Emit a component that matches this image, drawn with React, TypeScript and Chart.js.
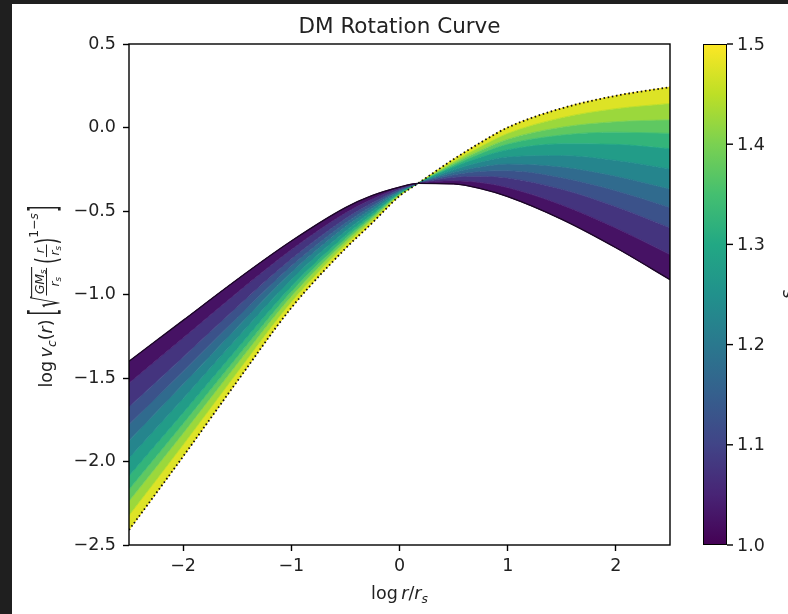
import React, { useEffect, useRef } from 'react';
import { Chart, registerables } from 'chart.js';

Chart.register(...registerables);

// ---------- data ----------
const LOG_R = [-2.5, -2.0, -1.5, -1.0, -0.5, -0.25, 0.0, 0.17, 0.5, 0.75, 1.0, 1.5, 2.0, 2.5];

const S_LEVELS = [1.0, 1.05, 1.1, 1.15, 1.2, 1.25, 1.3, 1.35, 1.4, 1.45, 1.5];

const V_S100 = [-1.40, -1.155, -0.91, -0.68, -0.48, -0.407, -0.357, -0.335, -0.338, -0.366, -0.414, -0.55, -0.72, -0.911];
const V_S105 = [-1.531, -1.261, -0.989, -0.732, -0.512, -0.428, -0.364, -0.335, -0.319, -0.330, -0.360, -0.464, -0.602, -0.761];
const V_S110 = [-1.673, -1.375, -1.075, -0.788, -0.546, -0.451, -0.371, -0.335, -0.298, -0.292, -0.302, -0.370, -0.474, -0.600];
const V_S115 = [-1.779, -1.461, -1.139, -0.830, -0.572, -0.468, -0.377, -0.335, -0.283, -0.263, -0.259, -0.301, -0.379, -0.479];
const V_S120 = [-1.875, -1.538, -1.197, -0.868, -0.595, -0.484, -0.382, -0.335, -0.268, -0.236, -0.219, -0.237, -0.292, -0.369];
const V_S125 = [-1.981, -1.624, -1.261, -0.910, -0.621, -0.501, -0.388, -0.335, -0.253, -0.207, -0.176, -0.168, -0.197, -0.248];
const V_S130 = [-2.087, -1.709, -1.325, -0.952, -0.647, -0.518, -0.393, -0.335, -0.237, -0.178, -0.133, -0.098, -0.101, -0.127];
const V_S135 = [-2.168, -1.774, -1.374, -0.984, -0.666, -0.531, -0.397, -0.335, -0.226, -0.156, -0.099, -0.045, -0.028, -0.035];
const V_S140 = [-2.238, -1.832, -1.416, -1.012, -0.683, -0.542, -0.401, -0.335, -0.215, -0.137, -0.070, 0.002, 0.035, 0.046];
const V_S145 = [-2.324, -1.901, -1.468, -1.046, -0.704, -0.556, -0.406, -0.335, -0.203, -0.114, -0.035, 0.059, 0.113, 0.144];
const V_S150 = [-2.41, -1.97, -1.52, -1.08, -0.725, -0.57, -0.41, -0.335, -0.19, -0.09, 0.0, 0.115, 0.19, 0.242];

const SERIES = [V_S100, V_S105, V_S110, V_S115, V_S120, V_S125, V_S130, V_S135, V_S140, V_S145, V_S150];

const X_TICKS = [-2, -1, 0, 1, 2];
const Y_TICKS = [-2.5, -2.0, -1.5, -1.0, -0.5, 0.0, 0.5];
const CBAR_TICKS = [1.0, 1.1, 1.2, 1.3, 1.4, 1.5];
const S_MIN = 1.0;
const S_MAX = 1.5;
const TITLE = 'DM Rotation Curve';

// ---------- style ----------
const W = 776;
const H = 610;
const FAM = '"DejaVu Sans", "Liberation Sans", sans-serif';
const FS = 17.5;
const TXT = '#222222';
const VIRIDIS = ['#440154', '#482475', '#414487', '#355f8d', '#2a788e', '#21918c', '#22a884', '#44bf70', '#7ad151', '#bddf26', '#fde725'];

function hex(c: string) {
  return [parseInt(c.slice(1, 3), 16), parseInt(c.slice(3, 5), 16), parseInt(c.slice(5, 7), 16)];
}
function viridis(t: number) {
  const tt = Math.max(0, Math.min(1, t)) * (VIRIDIS.length - 1);
  const i = Math.min(VIRIDIS.length - 2, Math.floor(tt));
  const f = tt - i;
  const a = hex(VIRIDIS[i]);
  const b = hex(VIRIDIS[i + 1]);
  const m = a.map((v, k) => Math.round(v + (b[k] - v) * f));
  return `rgb(${m[0]},${m[1]},${m[2]})`;
}
const sNorm = (s: number) => (s - S_MIN) / (S_MAX - S_MIN);
const minus = (s: string) => s.replace('-', '\u2212');

type Op = { w: number; draw: (ctx: CanvasRenderingContext2D, x: number) => void };

function font(size: number, italic: boolean) {
  return `${italic ? 'italic ' : ''}${size}px ${FAM}`;
}
function txt(ctx: CanvasRenderingContext2D, t: string, size: number, italic: boolean, dy: number): Op {
  ctx.font = font(size, italic);
  const w = ctx.measureText(t).width;
  return { w, draw: (c, x) => { c.font = font(size, italic); c.fillText(t, x, dy); } };
}
function gap(w: number): Op {
  return { w, draw: () => {} };
}
function stretched(ctx: CanvasRenderingContext2D, t: string, size: number, top: number, bottom: number): Op {
  ctx.font = font(size, false);
  const m = ctx.measureText(t);
  const asc = m.actualBoundingBoxAscent;
  const desc = m.actualBoundingBoxDescent;
  const k = (bottom - top) / (asc + desc);
  const base = bottom - desc * k;
  return {
    w: m.width,
    draw: (c, x) => {
      c.save();
      c.font = font(size, false);
      c.translate(x, base);
      c.scale(1, k);
      c.fillText(t, 0, 0);
      c.restore();
    },
  };
}
function group(ops: Op[]): Op {
  const w = ops.reduce((a, o) => a + o.w, 0);
  return {
    w,
    draw: (c, x) => {
      let cx = x;
      ops.forEach((o) => { o.draw(c, cx); cx += o.w; });
    },
  };
}
function frac(num: Op, den: Op, barY: number): Op {
  const w = Math.max(num.w, den.w) + 3;
  return {
    w,
    draw: (c, x) => {
      num.draw(c, x + (w - num.w) / 2);
      den.draw(c, x + (w - den.w) / 2);
      c.save();
      c.strokeStyle = TXT;
      c.lineWidth = 1;
      c.beginPath();
      c.moveTo(x, barY);
      c.lineTo(x + w, barY);
      c.stroke();
      c.restore();
    },
  };
}
function sqrtOp(ctx: CanvasRenderingContext2D, body: Op, top: number, bottom: number): Op {
  const rad = stretched(ctx, '\u221A', FS, top, bottom);
  const w = rad.w + body.w + 2;
  return {
    w,
    draw: (c, x) => {
      rad.draw(c, x);
      body.draw(c, x + rad.w + 1);
      c.save();
      c.strokeStyle = TXT;
      c.lineWidth = 1.1;
      c.beginPath();
      c.moveTo(x + rad.w - 1, top + 0.6);
      c.lineTo(x + w, top + 0.6);
      c.stroke();
      c.restore();
    },
  };
}

const decoPlugin = {
  id: 'deco',
  beforeDraw(chart: any) {
    const ctx = chart.ctx as CanvasRenderingContext2D;
    ctx.save();
    ctx.fillStyle = '#ffffff';
    ctx.fillRect(0, 0, chart.width, chart.height);
    ctx.restore();
  },
  afterDraw(chart: any) {
    const ctx = chart.ctx as CanvasRenderingContext2D;
    const a = chart.chartArea;
    ctx.save();
    // axes frame
    ctx.strokeStyle = '#000';
    ctx.lineWidth = 1.4;
    ctx.strokeRect(a.left, a.top, a.right - a.left, a.bottom - a.top);

    ctx.fillStyle = TXT;
    // title
    ctx.font = font(21.5, false);
    ctx.textAlign = 'center';
    ctx.textBaseline = 'alphabetic';
    ctx.fillText(TITLE, (a.left + a.right) / 2, 28.5);

    // x label: log r/r_s
    ctx.textAlign = 'left';
    const xl = group([
      txt(ctx, 'log', FS, false, 0),
      gap(3.5),
      txt(ctx, 'r', FS, true, 0),
      txt(ctx, '/', FS, false, 0),
      txt(ctx, 'r', FS, true, 0),
      txt(ctx, 's', FS * 0.7, true, 4),
    ]);
    ctx.save();
    ctx.translate((a.left + a.right) / 2, 595);
    xl.draw(ctx, -xl.w / 2);
    ctx.restore();

    // y label
    const fs = FS * 0.7;
    const ss = FS * 0.5;
    const barY = -5.5;
    const numY = -8.5;
    const denY = 6.5;
    const gm = group([txt(ctx, 'GM', fs, true, numY), txt(ctx, 's', ss, true, numY + 2.5)]);
    const rs = group([txt(ctx, 'r', fs, true, denY), txt(ctx, 's', ss, true, denY + 2.5)]);
    const rr = txt(ctx, 'r', fs, true, numY);
    const rs2 = group([txt(ctx, 'r', fs, true, denY), txt(ctx, 's', ss, true, denY + 2.5)]);
    const yl = group([
      txt(ctx, 'log', FS, false, 0),
      gap(3.5),
      txt(ctx, 'v', FS, true, 0),
      txt(ctx, 'c', FS * 0.7, true, 4),
      txt(ctx, '(', FS, false, 0),
      txt(ctx, 'r', FS, true, 0),
      txt(ctx, ')', FS, false, 0),
      gap(4),
      stretched(ctx, '[', FS, -27, 10),
      gap(1),
      sqrtOp(ctx, frac(gm, rs, barY), -21, 9.5),
      gap(3),
      stretched(ctx, '(', FS, -19, 8.5),
      frac(rr, rs2, barY),
      stretched(ctx, ')', FS, -19, 8.5),
      txt(ctx, '1\u2212', fs, false, -14),
      txt(ctx, 's', fs, true, -14),
      gap(1),
      stretched(ctx, ']', FS, -27, 10),
    ]);
    ctx.save();
    ctx.translate(40, (a.top + a.bottom) / 2 + 2);
    ctx.rotate(-Math.PI / 2);
    yl.draw(ctx, -yl.w / 2);
    ctx.restore();

    // colorbar
    const cbL = 691;
    const cbR = 715;
    const g = ctx.createLinearGradient(0, a.bottom, 0, a.top);
    VIRIDIS.forEach((c, i) => g.addColorStop(i / (VIRIDIS.length - 1), c));
    ctx.fillStyle = g;
    ctx.fillRect(cbL, a.top, cbR - cbL, a.bottom - a.top);
    ctx.strokeStyle = '#000';
    ctx.lineWidth = 1;
    ctx.strokeRect(cbL + 0.5, a.top + 0.5, cbR - cbL - 1, a.bottom - a.top - 1);
    ctx.fillStyle = TXT;
    ctx.font = font(FS, false);
    ctx.textAlign = 'left';
    ctx.textBaseline = 'middle';
    ctx.lineWidth = 1.4;
    CBAR_TICKS.forEach((v) => {
      const y = a.bottom - sNorm(v) * (a.bottom - a.top);
      ctx.beginPath();
      ctx.moveTo(cbR, y);
      ctx.lineTo(cbR + 6, y);
      ctx.stroke();
      ctx.fillText(v.toFixed(1), cbR + 10, y + 1);
    });
    // colorbar label (mostly outside the figure)
    ctx.save();
    ctx.translate(781, (a.top + a.bottom) / 2);
    ctx.rotate(-Math.PI / 2);
    ctx.font = font(FS, true);
    ctx.textAlign = 'center';
    ctx.textBaseline = 'alphabetic';
    ctx.fillText('s', 0, 0);
    ctx.restore();

    ctx.restore();
  },
};

export default function App() {
  const ref = useRef<HTMLCanvasElement | null>(null);

  useEffect(() => {
    document.documentElement.style.background = '#1f1f1f';
    document.body.style.margin = '0';
    document.body.style.background = '#1f1f1f';
    if (!ref.current) return;

    const datasets: any[] = SERIES.map((vals, i) => ({
      label: `s = ${S_LEVELS[i].toFixed(2)}`,
      data: LOG_R.map((x, j) => ({ x, y: vals[j] })),
      borderColor: viridis(sNorm(S_LEVELS[i])),
      backgroundColor: i === 0 ? viridis(0) : viridis(sNorm((S_LEVELS[i] + S_LEVELS[i - 1]) / 2)),
      borderWidth: 1,
      pointRadius: 0,
      fill: i === 0 ? false : '-1',
      cubicInterpolationMode: 'monotone',
      order: 1,
    }));
    datasets.push({
      label: 'edge s=1.5',
      data: LOG_R.map((x, j) => ({ x, y: V_S150[j] })),
      borderColor: '#111111',
      borderDash: [1.6, 2.6],
      borderWidth: 1.8,
      pointRadius: 0,
      fill: false,
      cubicInterpolationMode: 'monotone',
      order: 0,
    });
    datasets.push({
      label: 'edge s=1.0',
      data: LOG_R.map((x, j) => ({ x, y: V_S100[j] })),
      borderColor: '#1a0726',
      borderWidth: 1.3,
      pointRadius: 0,
      fill: false,
      cubicInterpolationMode: 'monotone',
      order: 0,
    });

    const tickGrid = {
      display: true,
      drawOnChartArea: false,
      drawTicks: true,
      tickLength: 6,
      tickWidth: 1.4,
      tickColor: '#000000',
    };

    const chart = new Chart(ref.current, {
      type: 'line',
      data: { datasets },
      plugins: [decoPlugin],
      options: {
        animation: false,
        responsive: false,
        devicePixelRatio: 1,
        layout: { padding: { left: 0, right: 118, top: 40, bottom: 0 } },
        plugins: {
          legend: { display: false },
          tooltip: { enabled: false },
          title: { display: false },
        },
        scales: {
          x: {
            type: 'linear',
            min: -2.5,
            max: 2.5,
            afterBuildTicks: (s: any) => { s.ticks = X_TICKS.map((v) => ({ value: v })); },
            afterFit: (s: any) => { s.height = 69; },
            grid: tickGrid,
            border: { display: false },
            ticks: {
              autoSkip: false,
              maxRotation: 0,
              padding: 5,
              color: TXT,
              font: { family: FAM, size: FS },
              callback: (v: any) => minus(String(v)),
            },
          },
          y: {
            type: 'linear',
            min: -2.5,
            max: 0.5,
            afterBuildTicks: (s: any) => { s.ticks = Y_TICKS.map((v) => ({ value: v })); },
            afterFit: (s: any) => { s.width = 117; },
            grid: tickGrid,
            border: { display: false },
            ticks: {
              autoSkip: false,
              padding: 7,
              color: TXT,
              font: { family: FAM, size: FS },
              callback: (v: any) => minus(Number(v).toFixed(1)),
            },
          },
        },
      } as any,
    });
    return () => chart.destroy();
  }, []);

  return (
    <div style={{ position: 'absolute', left: 12, top: 4, width: W, height: H, background: '#ffffff' }}>
      <canvas ref={ref} width={W} height={H} style={{ display: 'block', width: W, height: H }} />
    </div>
  );
}
